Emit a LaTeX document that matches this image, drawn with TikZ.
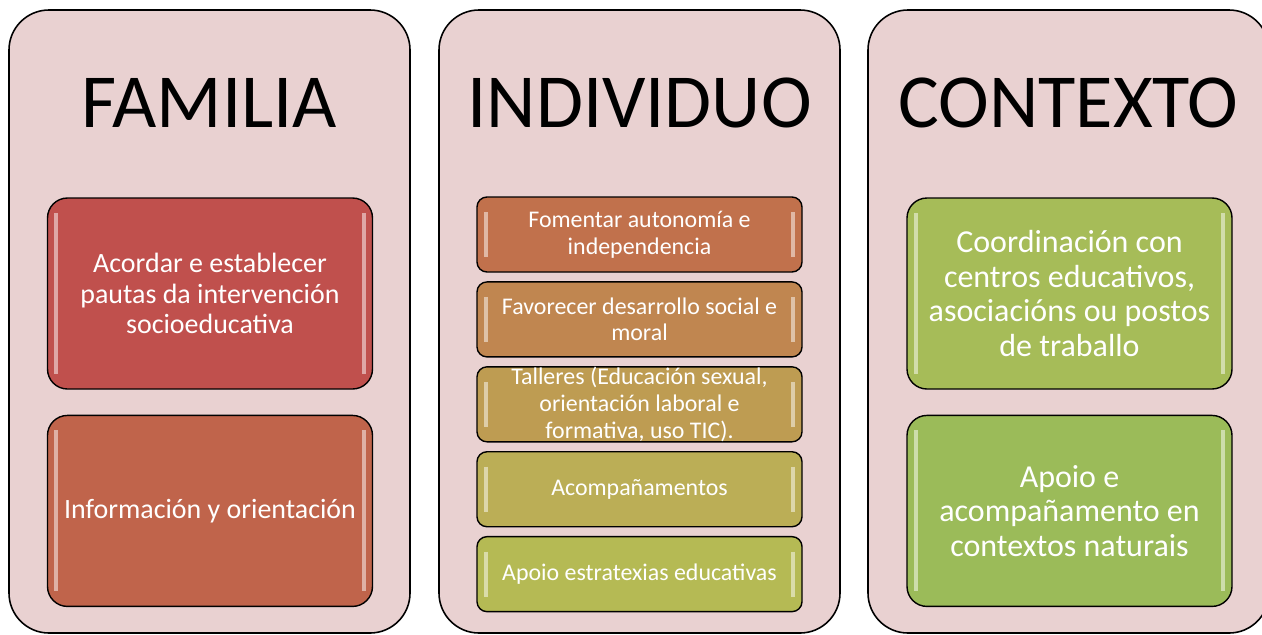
\documentclass[tikz,border=0pt]{standalone}
\usepackage{fontspec}
\setmainfont{Carlito}
\usetikzlibrary{positioning}

\definecolor{panelpink}{RGB}{233,209,209}
\definecolor{famA}{RGB}{192,80,77}
\definecolor{famB}{RGB}{192,100,75}
\definecolor{indA}{RGB}{193,113,76}
\definecolor{indB}{RGB}{192,134,80}
\definecolor{indC}{RGB}{190,156,82}
\definecolor{indD}{RGB}{187,174,86}
\definecolor{indE}{RGB}{181,186,84}
\definecolor{conA}{RGB}{166,188,88}
\definecolor{conB}{RGB}{155,187,89}

\tikzset{
  gloss/.style={path picture={
    \draw[white, opacity=0.5, line width=0.8mm]
      ([xshift=1.8mm,yshift=-3mm]path picture bounding box.north west) --
      ([xshift=1.8mm,yshift=3mm]path picture bounding box.south west);
    \draw[white, opacity=0.5, line width=0.8mm]
      ([xshift=-1.8mm,yshift=-3mm]path picture bounding box.north east) --
      ([xshift=-1.8mm,yshift=3mm]path picture bounding box.south east);}},
  panel/.style={draw=black, line width=0.9pt, fill=panelpink, rounded corners=8mm,
    minimum width=80.2mm, minimum height=124.6mm},
  title/.style={anchor=base, font=\fontsize{43.5}{43.5}\selectfont},
  bigbox/.style={draw=black, line width=0.8pt, rounded corners=4mm, gloss, text=white,
    align=center, minimum width=65mm, minimum height=38.2mm, inner sep=0pt},
  smallbox/.style={draw=black, line width=0.8pt, rounded corners=2mm, gloss, text=white,
    align=center, minimum width=65mm, minimum height=15mm, inner sep=0pt,
    font=\fontsize{13.6}{15.2}\selectfont}
}

\begin{document}
\begin{tikzpicture}[x=0.2mm, y=-0.2mm]
\useasboundingbox (0,0) rectangle (1262,634);

% paneis
\node[panel] (pfam) at (209.5,321.5) {};
\node[panel] (pind) at (639.5,321.5) {};
\node[panel] (pcon) at (1068.5,321.5) {};

\node[title] (tfam) at (209.5,127) {FAMILIA};
\node[title] (tind) at (639.5,127) {INDIVIDUO};
\node[title] (tcon) at (1068.5,127) {CONTEXTO};

% familia
\node[bigbox, fill=famA, font=\fontsize{15.9}{17.5}\selectfont] (fam1) at (210,293.5)
  {Acordar e establecer\\pautas da intervención\\socioeducativa};
\node[bigbox, fill=famB, font=\fontsize{15.9}{17.5}\selectfont] (fam2) [below=5mm of fam1]
  {Información y orientación};

% individuo
\node[smallbox, fill=indA] (ind1) at (639.5,234.5) {Fomentar autonomía e\\independencia};
\node[smallbox, fill=indB] (ind2) [below=1.7mm of ind1] {Favorecer desarrollo social e\\moral};
\node[smallbox, fill=indC] (ind3) [below=1.7mm of ind2] {Talleres (Educación sexual,\\orientación laboral e\\formativa, uso TIC).};
\node[smallbox, fill=indD] (ind4) [below=1.7mm of ind3] {Acompañamentos};
\node[smallbox, fill=indE] (ind5) [below=1.7mm of ind4] {Apoio estratexias educativas};

% contexto
\node[bigbox, fill=conA, font=\fontsize{18.2}{19.8}\selectfont] (con1) at (1069.5,293.5)
  {Coordinación con\\centros educativos,\\asociacións ou postos\\de traballo};
\node[bigbox, fill=conB, font=\fontsize{18.2}{19.8}\selectfont] (con2) [below=5mm of con1]
  {Apoio e\\acompañamento en\\contextos naturais};
\end{tikzpicture}
\end{document}
